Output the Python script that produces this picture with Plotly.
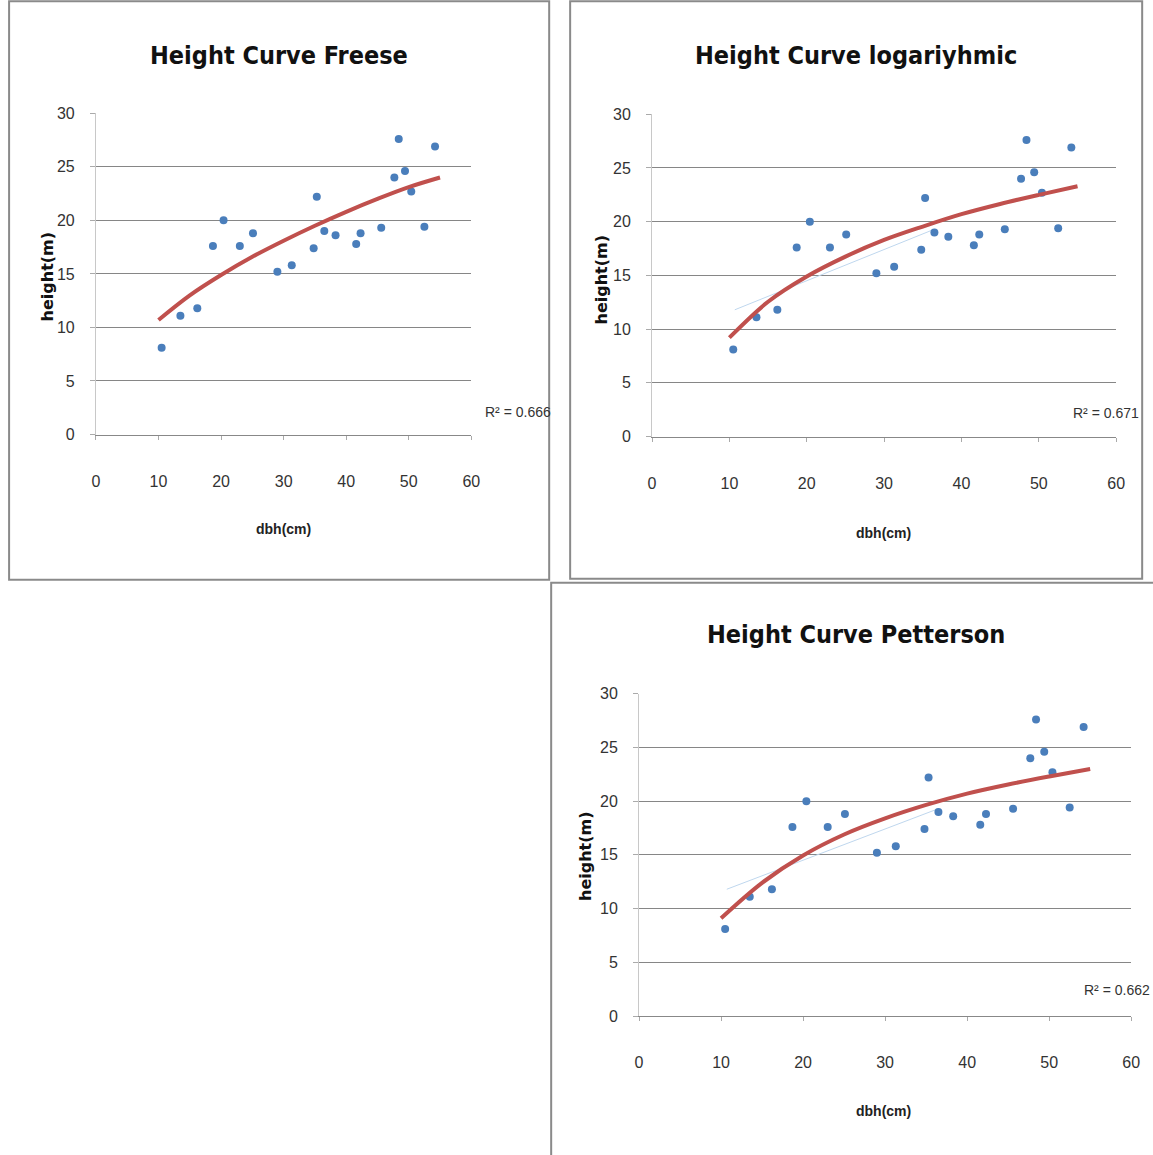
import plotly.graph_objects as go

# ---------------- data ----------------
dbh = [10.5, 13.5, 16.2, 18.7, 20.4, 23.0, 25.1, 29.0, 31.3, 34.8, 35.3,
       36.5, 38.3, 41.6, 42.3, 45.6, 47.7, 48.4, 49.4, 50.4, 52.5, 54.2]
height = [8.1, 11.1, 11.8, 17.6, 20.0, 17.6, 18.8, 15.2, 15.8, 17.4, 22.2,
          19.0, 18.6, 17.8, 18.8, 19.3, 24.0, 27.6, 24.6, 22.7, 19.4, 26.9]

curve_x = [10, 15, 20, 25, 30, 35, 40, 45, 50, 55]
freese_y = [10.7, 13.0, 14.9, 16.6, 18.1, 19.5, 20.8, 22.0, 23.1, 24.0]
log_y = [9.2, 12.55, 14.9, 16.75, 18.3, 19.55, 20.7, 21.65, 22.5, 23.3]
petterson_y = [9.1, 12.4, 14.95, 16.9, 18.4, 19.65, 20.7, 21.55, 22.3, 23.0]

faint_x = [10.7, 36.5]
faint_y = [11.8, 19.3]

titles = ["Height Curve Freese", "Height Curve logariyhmic", "Height Curve Petterson"]
r2_labels = ["R² = 0.666", "R² = 0.671", "R² = 0.662"]
x_ticks = [0, 10, 20, 30, 40, 50, 60]
y_ticks = [0, 5, 10, 15, 20, 25, 30]

# ---------------- layout geometry (pixels) ----------------
W, H = 1153, 1155
# plot areas: (x0, x60, y30, y0)
areas = [(95, 471, 115, 436), (652, 1117, 116, 438), (639, 1132, 695, 1017)]
boxes = [(8, 3, 549, 581), (570, 3, 1143, 580), (551, 584, 1160, 1160)]
title_pos = [(278, 57), (856, 57), (856, 636)]
ytitle_pos = [(46, 278), (601, 281), (586, 857)]
xtitle_pos = [(283, 530), (884, 534), (884, 1112)]
r2_pos = [(483, 413), (1072, 414), (1083, 991)]

# empirical correction of rendered placement
SX, OX = 0.9904, 2.9
SY, OY = 0.9845, 9.8

def px(x):
    return ((x - OX) / SX) / W

def py(y):
    return 1 - ((y - OY) / SY) / H

NARROW = "DejaVu Sans Condensed, Liberation Sans Narrow, Arial Narrow, Liberation Sans, sans-serif"
LIB = "Liberation Sans Narrow, Liberation Sans, Arial, sans-serif"
BLUE = "#4A7EBB"
RED = "#C0504D"

fig = go.Figure()
curves = [freese_y, log_y, petterson_y]

for i in range(3):
    xa = "x" if i == 0 else f"x{i+1}"
    ya = "y" if i == 0 else f"y{i+1}"
    if i > 0:
        fig.add_trace(go.Scatter(x=faint_x, y=faint_y, mode="lines",
                                 line=dict(color="#BFD7EE", width=1),
                                 xaxis=xa, yaxis=ya, showlegend=False,
                                 hoverinfo="skip"))
    fig.add_trace(go.Scatter(x=dbh, y=height, mode="markers",
                             marker=dict(color=BLUE, size=8,
                                         line=dict(width=0)),
                             xaxis=xa, yaxis=ya, showlegend=False))
    fig.add_trace(go.Scatter(x=curve_x, y=curves[i], mode="lines",
                             line=dict(color=RED, width=4, shape="spline",
                                       smoothing=1.0),
                             xaxis=xa, yaxis=ya, showlegend=False))

    x0, x60, y30, y0 = areas[i]
    kx = "xaxis" if i == 0 else f"xaxis{i+1}"
    ky = "yaxis" if i == 0 else f"yaxis{i+1}"
    fig.layout[kx] = dict(domain=[px(x0), px(x60)], range=[0, 60],
                          anchor=ya, tickvals=x_ticks,
                          showgrid=False, zeroline=False,
                          showline=True, linecolor="#888888", linewidth=1,
                          ticks="outside", ticklen=4, tickcolor="#AAAAAA",
                          ticklabelstandoff=28,
                          tickfont=dict(family=LIB, size=16, color="#333333"))
    fig.layout[ky] = dict(domain=[py(y0), py(y30)], range=[0, 30],
                          anchor=xa, tickvals=y_ticks,
                          showgrid=True, gridcolor="#868686", gridwidth=1,
                          zeroline=False,
                          showline=True, linecolor="#C8C8C8", linewidth=1,
                          ticks="outside", ticklen=5, tickcolor="#AAAAAA",
                          ticklabelstandoff=12,
                          tickfont=dict(family=LIB, size=16, color="#333333"))

    bx0, by0, bx1, by1 = boxes[i]
    fig.add_shape(type="rect", xref="paper", yref="paper",
                  x0=px(bx0), x1=px(bx1), y0=py(by1), y1=py(by0),
                  line=dict(color="#8A8A8A", width=2), fillcolor="rgba(0,0,0,0)",
                  layer="below")

    tx, ty = title_pos[i]
    fig.add_annotation(text=f"<b>{titles[i]}</b>", x=px(tx), y=py(ty),
                       xref="paper", yref="paper", showarrow=False,
                       xanchor="center", yanchor="middle",
                       font=dict(family=NARROW, size=25, color="#111111"))
    yx, yy = ytitle_pos[i]
    fig.add_annotation(text="<b>height(m)</b>", x=px(yx), y=py(yy),
                       xref="paper", yref="paper", showarrow=False,
                       textangle=-90, xanchor="center", yanchor="middle",
                       font=dict(family="DejaVu Sans", size=16, color="#111111"))
    xx, xy = xtitle_pos[i]
    fig.add_annotation(text="<b>dbh(cm)</b>", x=px(xx), y=py(xy),
                       xref="paper", yref="paper", showarrow=False,
                       xanchor="center", yanchor="middle",
                       font=dict(family=LIB, size=14, color="#222222"))
    rx, ry = r2_pos[i]
    fig.add_annotation(text=r2_labels[i], x=px(rx), y=py(ry),
                       xref="paper", yref="paper", showarrow=False,
                       xanchor="left", yanchor="middle",
                       font=dict(family=LIB, size=14, color="#333333"))

fig.update_layout(width=W, height=H, margin=dict(l=0, r=0, t=0, b=0),
                  paper_bgcolor="white", plot_bgcolor="white",
                  showlegend=False)

post = (
    "document.documentElement.style.margin='0';"
    "document.body.style.margin='0';"
    "document.body.style.overflow='hidden';"
)

fig.write_html("out.html", post_script=post,
               config={"displayModeBar": False})
